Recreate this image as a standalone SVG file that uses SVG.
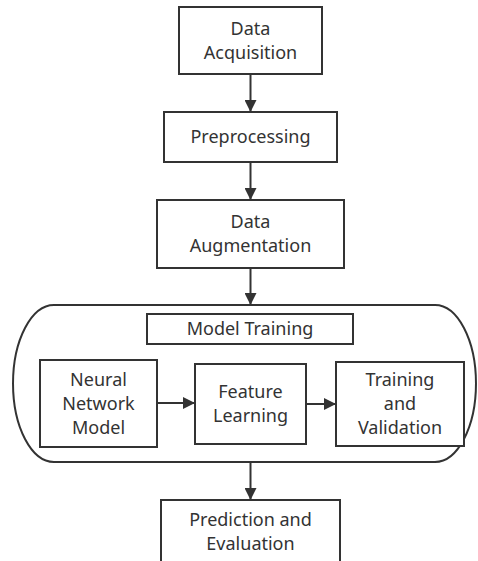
<svg xmlns="http://www.w3.org/2000/svg" width="478" height="561" viewBox="0 0 478 561">
  <style>
    .box { fill: #ffffff; stroke: #333333; stroke-width: 2; }
    .lbl { font-family: "Noto Sans", "Open Sans", sans-serif; font-size: 18px; fill: #333333; text-anchor: middle; }
    .edge { stroke: #333333; stroke-width: 2; fill: none; marker-end: url(#arrow); }
  </style>
  <defs>
    <marker id="arrow" viewBox="0 0 12 12" refX="12" refY="6" markerWidth="12" markerHeight="12" markerUnits="userSpaceOnUse" orient="auto">
      <path d="M0,0 L12,6 L0,12 z" fill="#333333"/>
    </marker>
  </defs>
  <rect width="478" height="561" fill="#ffffff"/>

  <g id="model-training-group">
    <path class="box" d="M54,305 H435 A41,78.5 0 0 1 435,462 H54 A41,78.5 0 0 1 54,305 Z"/>
  </g>

  <g id="data-acquisition">
    <rect class="box" x="179" y="7" width="143" height="67"/>
    <text class="lbl" x="250.5" y="35">Data</text>
    <text class="lbl" x="250.5" y="59">Acquisition</text>
  </g>

  <g id="preprocessing">
    <rect class="box" x="164" y="112" width="173" height="50"/>
    <text class="lbl" x="250.5" y="143">Preprocessing</text>
  </g>

  <g id="data-augmentation">
    <rect class="box" x="157" y="200" width="187" height="68"/>
    <text class="lbl" x="250.5" y="228">Data</text>
    <text class="lbl" x="250.5" y="252">Augmentation</text>
  </g>

  <g id="model-training">
    <rect class="box" x="147" y="314" width="206" height="30"/>
    <text class="lbl" x="250" y="335">Model Training</text>
  </g>

  <g id="neural-network-model">
    <rect class="box" x="40" y="360" width="117" height="87"/>
    <text class="lbl" x="98.5" y="386">Neural</text>
    <text class="lbl" x="98.5" y="410">Network</text>
    <text class="lbl" x="98.5" y="434">Model</text>
  </g>

  <g id="feature-learning">
    <rect class="box" x="195" y="364" width="111" height="80"/>
    <text class="lbl" x="250.5" y="398">Feature</text>
    <text class="lbl" x="250.5" y="422">Learning</text>
  </g>

  <g id="training-validation">
    <rect class="box" x="336" y="362" width="128" height="84"/>
    <text class="lbl" x="400" y="386">Training</text>
    <text class="lbl" x="400" y="410">and</text>
    <text class="lbl" x="400" y="434">Validation</text>
  </g>

  <g id="prediction-evaluation">
    <rect class="box" x="161" y="500" width="179" height="80"/>
    <text class="lbl" x="250.5" y="526">Prediction and</text>
    <text class="lbl" x="250.5" y="550">Evaluation</text>
  </g>

  <g id="connectors">
    <line class="edge" x1="250.5" y1="74" x2="250.5" y2="112"/>
    <line class="edge" x1="250.5" y1="162" x2="250.5" y2="200"/>
    <line class="edge" x1="250.5" y1="268" x2="250.5" y2="305"/>
    <line class="edge" x1="157" y1="403" x2="195" y2="403"/>
    <line class="edge" x1="306" y1="404" x2="336" y2="404"/>
    <line class="edge" x1="250.5" y1="462" x2="250.5" y2="500"/>
  </g>
</svg>
